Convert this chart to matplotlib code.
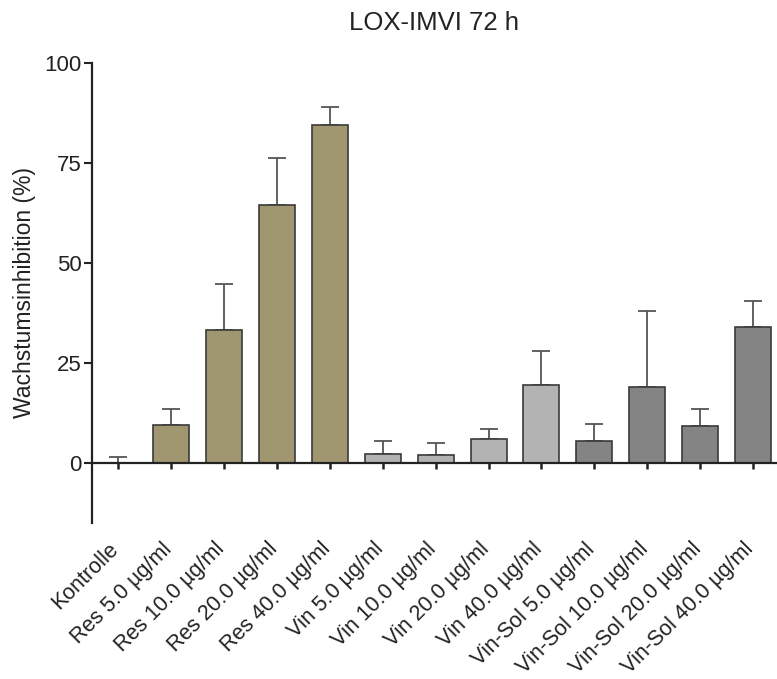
import matplotlib
matplotlib.use('Agg')
import matplotlib.pyplot as plt
import matplotlib.transforms as mtransforms
import numpy as np

plt.rcParams['font.family'] = ['Liberation Sans', 'DejaVu Sans']

# Daten
categories = ["Kontrolle",
              "Res 5.0 µg/ml", "Res 10.0 µg/ml", "Res 20.0 µg/ml", "Res 40.0 µg/ml",
              "Vin 5.0 µg/ml", "Vin 10.0 µg/ml", "Vin 20.0 µg/ml", "Vin 40.0 µg/ml",
              "Vin-Sol 5.0 µg/ml", "Vin-Sol 10.0 µg/ml", "Vin-Sol 20.0 µg/ml", "Vin-Sol 40.0 µg/ml"]
means = [0.0, 9.5, 33.2, 64.5, 84.5, 2.2, 2.0, 5.9, 19.4, 5.4, 19.0, 9.3, 33.9]
errors = [1.6, 3.9, 11.6, 11.7, 4.6, 3.3, 3.1, 2.5, 8.5, 4.4, 19.1, 4.2, 6.7]
groups = ["ctrl", "res", "res", "res", "res", "vin", "vin", "vin", "vin",
          "vinsol", "vinsol", "vinsol", "vinsol"]
group_colors = {"ctrl": "white", "res": "#A09670", "vin": "#B3B3B3", "vinsol": "#848484"}
yticks = [0, 25, 50, 75, 100]

W, H = 777, 679
fig = plt.figure(figsize=(W / 100, H / 100), dpi=100)
ax = fig.add_axes([91.5 / W, 1 - 523 / H, (W - 91.5) / W, 460 / H])

x = np.arange(len(categories))
colors = [group_colors[g] for g in groups]
ax.bar(x, means, width=0.68, color=colors, edgecolor='#3a3a3a', linewidth=1.2, zorder=2)
ax.errorbar(x, means, yerr=[np.zeros(len(errors)), errors], fmt='none',
            ecolor='#555555', elinewidth=1.3, capsize=6.5, capthick=1.3, zorder=1)

ax.set_xlim(-0.5, 12.45)
ax.set_ylim(-15, 100)

# Achsen im Prism-Stil
for s in ['top', 'right']:
    ax.spines[s].set_visible(False)
ax.spines['bottom'].set_position(('data', 0))
ax.spines['left'].set_linewidth(1.6)
ax.spines['bottom'].set_linewidth(1.6)
ax.spines['left'].set_color('#222222')
ax.spines['bottom'].set_color('#222222')

ax.set_yticks(yticks)
ax.tick_params(axis='y', length=6, width=1.5, labelsize=16, colors='#222222', pad=1)
ax.set_xticks(x)
ax.set_xticklabels(categories, rotation=45, ha='right')
ax.tick_params(axis='x', length=4.5, width=1.8, labelsize=15.5, colors='#222222', pad=50)
offset = mtransforms.ScaledTranslation(5 / 100, 0, fig.dpi_scale_trans)
for lab in ax.get_xticklabels():
    lab.set_transform(lab.get_transform() + offset)

ax.set_ylabel("Wachstumsinhibition (%)", fontsize=16.5, color='#222222', labelpad=6)
ax.set_title("LOX-IMVI 72 h", fontsize=18.5, color='#222222', pad=24)

fig.savefig("out.png", dpi=100)
